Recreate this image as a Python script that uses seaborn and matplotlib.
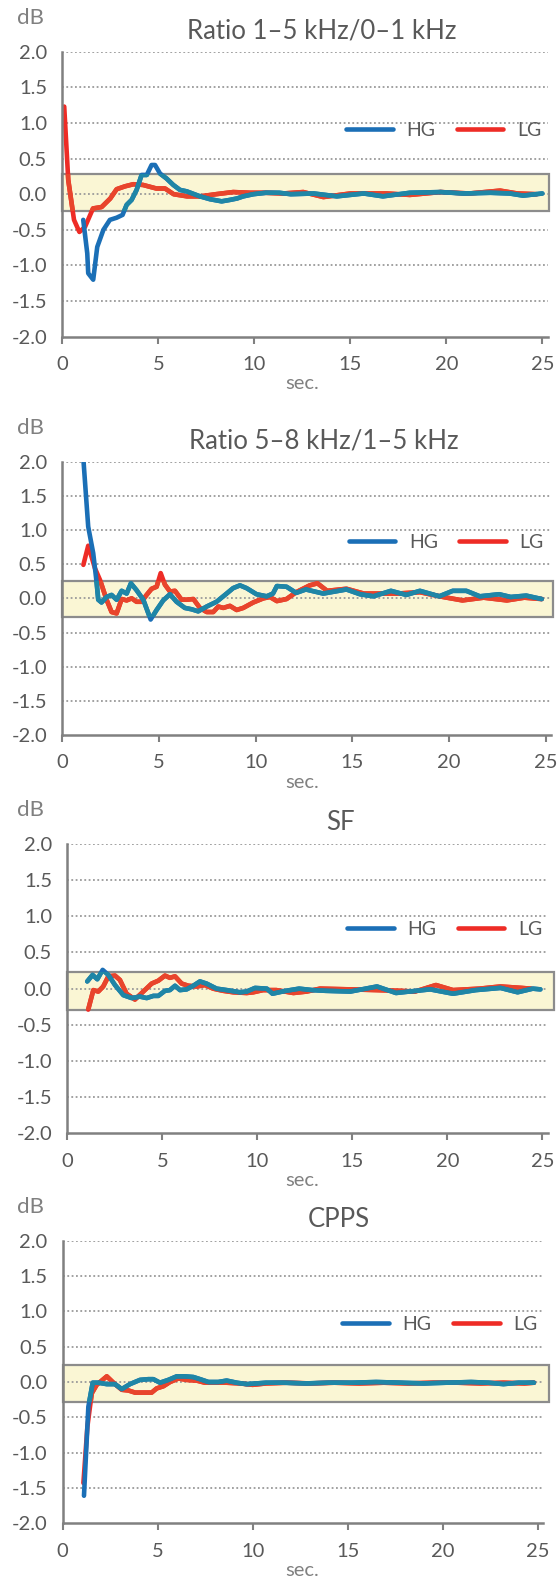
import matplotlib
matplotlib.use("Agg")
import matplotlib.pyplot as plt
from matplotlib.patches import Rectangle
import seaborn as sns

sns.set_style("white")
plt.rcParams["font.family"] = ["Lato", "DejaVu Sans"]

# ---- data (sec, dB) ----
titles = ["Ratio 1\u20135 kHz/0\u20131 kHz", "Ratio 5\u20138 kHz/1\u20135 kHz", "SF", "CPPS"]

# Ratio 1-5 kHz / 0-1 kHz
r1_hg_x = [1.09, 1.3, 1.35, 1.61, 1.82, 2.14, 2.48, 2.83, 3.14, 3.35, 3.61, 3.87, 4.13, 4.4, 4.65,
           4.83, 5.09, 5.43, 5.78, 6.13, 6.48, 7.17, 7.69, 8.3, 8.73, 9.1, 9.43, 9.95, 10.6, 11.3,
           11.9, 13.1, 14.3, 15.7, 16.7, 18.1, 19.7, 20.9, 22.3, 23.3, 24.0, 25.0]
r1_hg_y = [-0.36, -0.83, -1.11, -1.2, -0.74, -0.5, -0.36, -0.33, -0.29, -0.15, -0.08, 0.06, 0.27, 0.27, 0.41,
           0.41, 0.29, 0.22, 0.13, 0.06, 0.04, -0.03, -0.07, -0.1, -0.08, -0.06, -0.03, 0.0, 0.02, 0.02,
           0.0, 0.01, -0.03, 0.01, -0.03, 0.02, 0.03, 0.01, 0.02, 0.01, -0.02, 0.01]
r1_lg_x = [0.1, 0.31, 0.61, 0.89, 1.18, 1.6, 2.05, 2.5, 2.83, 3.26, 3.7, 4.2, 4.9, 5.35, 5.8,
           6.5, 7.2, 8.0, 8.9, 9.8, 10.6, 11.5, 12.55, 13.6, 15.0, 16.9, 18.1, 19.7, 21.2, 22.8,
           23.7, 24.7]
r1_lg_y = [1.23, 0.2, -0.36, -0.53, -0.46, -0.2, -0.18, -0.06, 0.07, 0.11, 0.14, 0.13, 0.08, 0.08, 0.0,
           -0.03, -0.03, 0.0, 0.03, 0.02, 0.02, 0.01, 0.03, -0.04, 0.01, 0.01, -0.01, 0.03, 0.01, 0.05,
           0.01, 0.0]

# Ratio 5-8 kHz / 1-5 kHz
r2_hg_x = [1.1, 1.34, 1.6, 1.78, 1.86, 2.03, 2.29, 2.55, 2.81, 3.07, 3.33, 3.55, 3.84, 4.19, 4.57,
           4.88, 5.22, 5.57, 5.91, 6.34, 6.69, 7.03, 7.47, 7.98, 8.5, 8.84, 9.19, 9.53, 10.05, 10.57,
           10.9, 11.1, 11.6, 12.1, 12.6, 13.5, 14.7, 15.4, 16.1, 17.0, 17.8, 18.5, 19.5, 20.2,
           20.9, 21.6, 22.6, 23.2, 24.0, 24.8]
r2_hg_y = [2.0, 1.05, 0.66, 0.22, -0.02, -0.06, 0.02, 0.05, -0.02, 0.11, 0.07, 0.22, 0.12, -0.02, -0.31,
           -0.17, -0.03, 0.06, -0.05, -0.14, -0.16, -0.19, -0.12, -0.05, 0.07, 0.15, 0.19, 0.15, 0.06, 0.03,
           0.07, 0.18, 0.17, 0.08, 0.13, 0.07, 0.13, 0.06, 0.03, 0.11, 0.05, 0.11, 0.03, 0.11,
           0.11, 0.03, 0.06, 0.02, 0.04, -0.01]
r2_lg_x = [1.09, 1.34, 1.69, 1.95, 2.29, 2.55, 2.81, 3.07, 3.33, 3.59, 3.84, 4.1, 4.36, 4.62, 4.88,
           5.09, 5.31, 5.57, 5.83, 6.17, 6.43, 6.78, 7.12, 7.47, 7.81, 8.07, 8.33, 8.67, 9.02, 9.36,
           9.88, 10.4, 10.74, 11.1, 11.6, 12.1, 12.8, 13.2, 13.7, 14.7, 15.6, 16.4, 17.3, 18.5,
           19.7, 20.7, 21.8, 23.0, 23.9, 24.8]
r2_lg_y = [0.49, 0.77, 0.44, 0.27, -0.02, -0.2, -0.22, -0.01, -0.03, 0.0, -0.05, -0.05, 0.05, 0.14, 0.17,
           0.37, 0.2, 0.1, 0.11, -0.02, -0.02, -0.01, -0.14, -0.2, -0.2, -0.12, -0.14, -0.11, -0.17, -0.14,
           -0.06, 0.0, 0.02, -0.04, -0.01, 0.09, 0.19, 0.22, 0.11, 0.14, 0.07, 0.07, 0.07, 0.09,
           0.02, -0.03, 0.01, -0.03, 0.01, -0.01]

# SF
r3_hg_x = [1.05, 1.33, 1.58, 1.86, 2.16, 2.51, 2.95, 3.39, 3.82, 4.18, 4.53, 4.79, 5.14, 5.4, 5.67,
           5.93, 6.28, 6.63, 6.98, 7.33, 7.86, 8.39, 9.09, 9.44, 9.88, 10.5, 10.8, 11.5, 12.2, 12.9,
           13.6, 14.9, 16.3, 17.3, 18.0, 19.1, 20.3, 21.5, 22.8, 23.7, 24.5, 24.9]
r3_hg_y = [0.1, 0.19, 0.13, 0.26, 0.19, 0.05, -0.09, -0.13, -0.11, -0.13, -0.1, -0.1, -0.03, -0.02, 0.04,
           -0.02, -0.01, 0.04, 0.1, 0.07, 0.0, -0.02, -0.05, -0.04, 0.01, 0.0, -0.07, -0.03, 0.0, -0.02,
           -0.03, -0.04, 0.03, -0.06, -0.04, -0.01, -0.07, -0.02, 0.01, -0.05, 0.0, -0.01]
r3_lg_x = [1.1, 1.37, 1.63, 1.89, 2.16, 2.51, 2.77, 3.12, 3.56, 4.0, 4.44, 4.79, 5.14, 5.4, 5.67,
           6.02, 6.37, 6.81, 7.25, 7.68, 8.21, 8.74, 9.44, 9.79, 10.3, 11.0, 11.9, 12.6, 13.3,
           14.9, 16.3, 17.5, 18.3, 19.4, 20.3, 21.7, 22.8, 23.9, 24.4]
r3_lg_y = [-0.29, -0.02, -0.04, 0.03, 0.17, 0.18, 0.12, -0.07, -0.15, -0.04, 0.07, 0.11, 0.18, 0.15, 0.17,
           0.07, 0.04, 0.03, 0.05, 0.0, -0.03, -0.05, -0.06, -0.05, -0.02, -0.02, -0.06, -0.04, 0.0,
           -0.01, -0.02, -0.03, -0.04, 0.05, -0.02, 0.0, 0.03, 0.01, 0.0]

# CPPS
r4_hg_x = [1.12, 1.35, 1.58, 1.88, 2.32, 2.75, 3.11, 3.54, 4.07, 4.51, 4.77, 5.12, 5.56, 6.0, 6.44,
           6.88, 7.23, 7.67, 8.19, 8.63, 9.16, 9.68, 10.2, 10.7, 11.6, 12.8, 14.0, 15.2, 16.5,
           17.8, 19.0, 20.2, 21.5, 22.4, 23.2, 24.0, 24.8]
r4_hg_y = [-1.61, -0.35, -0.01, -0.01, -0.03, -0.03, -0.1, -0.03, 0.03, 0.04, 0.04, -0.01, 0.03, 0.08, 0.08,
           0.07, 0.04, 0.0, 0.0, 0.02, -0.01, -0.03, -0.02, -0.01, -0.01, -0.02, -0.01, -0.01, 0.0,
           -0.01, -0.02, -0.01, 0.0, -0.01, -0.03, -0.01, -0.01]
r4_lg_x = [1.09, 1.3, 1.53, 1.79, 2.32, 2.67, 3.11, 3.46, 3.81, 4.25, 4.68, 4.95, 5.3, 5.65, 6.09,
           6.53, 7.05, 7.49, 8.1, 8.63, 9.33, 10.0, 10.7, 11.8, 13.0, 14.3, 15.6, 16.9, 18.2,
           19.5, 20.8, 22.0, 23.2, 24.3, 24.8]
r4_lg_y = [-1.43, -0.63, -0.16, -0.04, 0.08, -0.01, -0.11, -0.12, -0.15, -0.15, -0.15, -0.09, -0.06, 0.0, 0.05,
           0.03, 0.02, -0.01, -0.01, -0.01, -0.02, -0.04, -0.02, -0.01, -0.02, -0.01, -0.02, -0.01, -0.02,
           -0.01, -0.01, -0.02, -0.01, -0.02, -0.01]

hg_x = [r1_hg_x, r2_hg_x, r3_hg_x, r4_hg_x]
hg_y = [r1_hg_y, r2_hg_y, r3_hg_y, r4_hg_y]
lg_x = [r1_lg_x, r2_lg_x, r3_lg_x, r4_lg_x]
lg_y = [r1_lg_y, r2_lg_y, r3_lg_y, r4_lg_y]

# tolerance band (dB)
band_lo = [-0.23, -0.28, -0.29, -0.29]
band_hi = [0.29, 0.25, 0.23, 0.24]

# ---- layout in pixels ----
W, H = 557, 1580
# left, top, px per sec, bottom
panels = [(62.3, 51.7, 19.2, 336.7),
          (62.3, 461.7, 19.33, 735.0),
          (67.3, 844.0, 19.0, 1133.3),
          (62.7, 1240.7, 19.0, 1523.3)]
title_x = [322, 324, 340, 339]
band_right = [25.35, 25.4, 25.6, 25.6]
XMAX = 25.3

BLUE = "#1b6fb6"
TEAL = "#1f86a6"
RED = "#ee2c26"
RED_IN = "#e8452c"
TXT = "#595959"
GREY = "#808080"

fig = plt.figure(figsize=(W / 100, H / 100), dpi=100)

for i in range(4):
    left, top, unit, bottom = panels[i]
    right = left + XMAX * unit
    ax = fig.add_axes([left / W, 1 - bottom / H, (right - left) / W, (bottom - top) / H])
    ax.set_xlim(0, XMAX)
    ax.set_ylim(-2, 2)

    # dotted horizontal grid
    for g in [2.0, 1.5, 1.0, 0.5, 0.0, -0.5, -1.0, -1.5]:
        ax.axhline(g, color="#9a9a9a", lw=1.3, ls=(0, (1, 1.4)), zorder=1)

    band = Rectangle((0, band_lo[i]), band_right[i], band_hi[i] - band_lo[i],
                     facecolor="#faf6d4", edgecolor="#8c8c8c", lw=1.6, zorder=0.5, clip_on=False)
    ax.add_patch(band)
    clip = Rectangle((0, band_lo[i]), band_right[i], band_hi[i] - band_lo[i],
                     transform=ax.transData, facecolor="none", edgecolor="none")

    sns.lineplot(x=lg_x[i], y=lg_y[i], ax=ax, color=RED, lw=3.3, label="LG", zorder=3)
    sns.lineplot(x=lg_x[i], y=lg_y[i], ax=ax, color=RED_IN, lw=3.3, zorder=3)
    ax.lines[-1].set_clip_path(clip)
    sns.lineplot(x=hg_x[i], y=hg_y[i], ax=ax, color=BLUE, lw=3.3, label="HG", zorder=4)
    sns.lineplot(x=hg_x[i], y=hg_y[i], ax=ax, color=TEAL, lw=3.3, zorder=4)
    ax.lines[-1].set_clip_path(clip)

    handles, labels = ax.get_legend_handles_labels()
    order = [labels.index("HG"), labels.index("LG")]
    leg_y = 0.725 if i == 0 else 0.705
    ax.legend([handles[k] for k in order], ["HG", "LG"], loc="center",
              bbox_to_anchor=(0.785, leg_y), ncol=2, frameon=False, fontsize=14,
              handlelength=2.4, columnspacing=1.1, handletextpad=0.7, labelcolor=TXT)

    ax.set_xticks([0, 5, 10, 15, 20, 25])
    ax.set_yticks([-2.0, -1.5, -1.0, -0.5, 0.0, 0.5, 1.0, 1.5, 2.0])
    ax.set_yticklabels([f"{v:.1f}" for v in [-2.0, -1.5, -1.0, -0.5, 0.0, 0.5, 1.0, 1.5, 2.0]])
    ax.tick_params(axis="x", length=5, width=1.5, color=GREY, labelsize=14.5,
                   labelcolor=TXT, pad=9, direction="out", bottom=True)
    ax.tick_params(axis="y", length=0, labelsize=14.5, labelcolor=TXT, pad=11)
    ax.set_xlabel("")
    ax.set_ylabel("")
    for s in ["top", "right"]:
        ax.spines[s].set_visible(False)
    for s in ["left", "bottom"]:
        ax.spines[s].set_color(GREY)
        ax.spines[s].set_linewidth(1.8)
        ax.spines[s].set_zorder(5)

    # panel texts
    fig.text(31 / W, 1 - (top - 34) / H, "dB", fontsize=16, color=GREY, ha="center", va="center")
    fig.text(title_x[i] / W, 1 - (top - 21) / H, titles[i], fontsize=18.5, color=TXT,
             ha="center", va="center")
    fig.text(302 / W, 1 - (bottom + 47) / H, "sec.", fontsize=14.5, color=GREY, ha="center", va="center")

fig.savefig("out.png", dpi=100)
